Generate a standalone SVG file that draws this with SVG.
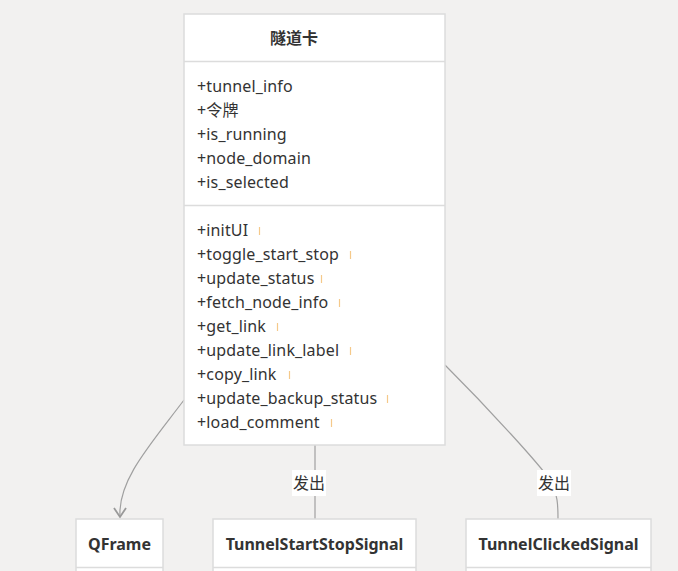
<svg xmlns="http://www.w3.org/2000/svg" width="678" height="571" viewBox="0 0 678 571">
<style>
.bg{fill:#f2f1f0}
.box{fill:#ffffff;stroke:#dcdcdc;stroke-width:1.5}
.div{stroke:#dcdcdc;stroke-width:1.5}
.t{font-family:"Noto Sans","Noto Sans CJK SC",sans-serif;font-size:16px;fill:#333333;letter-spacing:0.15px}
.title{font-family:"Noto Sans","Noto Sans CJK SC",sans-serif;font-size:16px;font-weight:bold;fill:#333333}
.edge{fill:none;stroke:#a0a0a0;stroke-width:1.2}
.head{fill:none;stroke:#999999;stroke-width:1.8}
.lbl{fill:#ffffff}
.lt{font-family:"Noto Sans CJK SC","Noto Sans",sans-serif;font-size:16px;fill:#333333}
.mk{stroke:#f5c98a;stroke-width:1.2}
</style>
<rect class="bg" x="0" y="0" width="678" height="571"/>
<g id="connectors">
<path class="edge" d="M184,400 C150,445 118,480 120,516"/>
<path class="head" d="M114,508 L120,517 L126,508"/>
<line class="edge" x1="315" y1="445" x2="315" y2="519"/>
<rect class="lbl" x="292" y="470" width="34" height="26"/>
<text class="lt" x="309" y="489" text-anchor="middle">发出</text>
<path class="edge" d="M445,365 C490,410 540,465 550,480 C558,495 558,505 558,519"/>
<rect class="lbl" x="537" y="470" width="34" height="26"/>
<text class="lt" x="554" y="489" text-anchor="middle">发出</text>
</g>
<g id="node-tunnelcard">
<rect class="box" x="184" y="14" width="261" height="431"/>
<line class="div" x1="184" y1="61.5" x2="445" y2="61.5"/>
<line class="div" x1="184" y1="205.5" x2="445" y2="205.5"/>
<text class="title" x="294" y="44" text-anchor="middle">隧道卡</text>
<text class="t" x="197" y="92">+tunnel_info</text>
<text class="t" x="197" y="116">+令牌</text>
<text class="t" x="197" y="140">+is_running</text>
<text class="t" x="197" y="164">+node_domain</text>
<text class="t" x="197" y="188">+is_selected</text>
<text class="t" x="197" y="236">+initUI</text>
<text class="t" x="197" y="260">+toggle_start_stop</text>
<text class="t" x="197" y="284">+update_status</text>
<text class="t" x="197" y="308">+fetch_node_info</text>
<text class="t" x="197" y="332">+get_link</text>
<text class="t" x="197" y="356">+update_link_label</text>
<text class="t" x="197" y="380">+copy_link</text>
<text class="t" x="197" y="404">+update_backup_status</text>
<text class="t" x="197" y="428">+load_comment</text>
<line class="mk" x1="259.5" y1="227" x2="259.5" y2="235"/>
<line class="mk" x1="350.5" y1="251" x2="350.5" y2="259"/>
<line class="mk" x1="321.5" y1="275" x2="321.5" y2="283"/>
<line class="mk" x1="339.5" y1="299" x2="339.5" y2="307"/>
<line class="mk" x1="277.5" y1="323" x2="277.5" y2="331"/>
<line class="mk" x1="350.5" y1="347" x2="350.5" y2="355"/>
<line class="mk" x1="289.5" y1="371" x2="289.5" y2="379"/>
<line class="mk" x1="387.5" y1="395" x2="387.5" y2="403"/>
<line class="mk" x1="331.5" y1="419" x2="331.5" y2="427"/>
</g>
<g id="node-qframe">
<rect class="box" x="76" y="519" width="87" height="60"/>
<line class="div" x1="76" y1="567.5" x2="163" y2="567.5"/>
<text class="title" x="119.5" y="550" text-anchor="middle">QFrame</text>
</g>
<g id="node-startstop">
<rect class="box" x="213" y="519" width="203" height="60"/>
<line class="div" x1="213" y1="567.5" x2="416" y2="567.5"/>
<text class="title" x="314.5" y="550" text-anchor="middle">TunnelStartStopSignal</text>
</g>
<g id="node-clicked">
<rect class="box" x="466" y="519" width="185" height="60"/>
<line class="div" x1="466" y1="567.5" x2="651" y2="567.5"/>
<text class="title" x="558.5" y="550" text-anchor="middle">TunnelClickedSignal</text>
</g>
</svg>
